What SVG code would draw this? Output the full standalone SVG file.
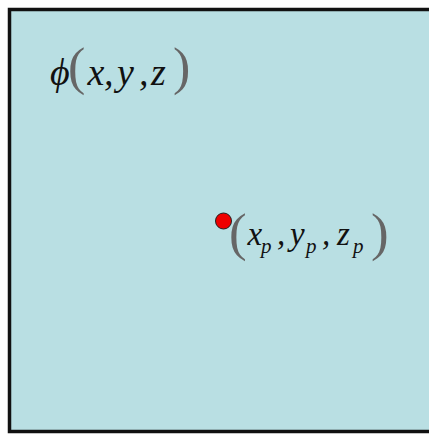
<svg xmlns="http://www.w3.org/2000/svg" width="429" height="434" viewBox="0 0 429 434">
<style>
.m{font-family:"Liberation Serif","Times New Roman",serif;font-style:italic;fill:#111}
.p{font-style:normal;fill:#666}
</style>
<rect x="0" y="0" width="429" height="434" fill="#ffffff"/>
<g id="domain">
<rect x="9.5" y="9.5" width="430" height="422" fill="#b9dfe3" stroke="#111" stroke-width="3.5"/>
<text id="field-label" class="m" font-size="38"><tspan x="50" y="85">ϕ</tspan><tspan class="p" x="68" y="84" font-size="52">(</tspan><tspan x="87.5" y="85">x</tspan><tspan x="104" y="85">,</tspan><tspan x="117" y="85">y</tspan><tspan x="139" y="85">,</tspan><tspan x="151" y="85">z</tspan><tspan class="p" x="173" y="84" font-size="52">)</tspan></text>
</g>
<g id="point">
<circle cx="223.5" cy="221" r="8" fill="#ee0000" stroke="#222" stroke-width="1"/>
<text id="point-label" class="m" font-size="33"><tspan class="p" x="229" y="250" font-size="53">(</tspan><tspan x="247.5" y="245">x</tspan><tspan x="261" y="253" font-size="21">p</tspan><tspan x="277" y="245">,</tspan><tspan x="290" y="245">y</tspan><tspan x="306" y="253" font-size="21">p</tspan><tspan x="322" y="245">,</tspan><tspan x="337" y="245">z</tspan><tspan x="353" y="253" font-size="21">p</tspan><tspan class="p" x="371" y="250" font-size="53">)</tspan></text>
</g>
</svg>
